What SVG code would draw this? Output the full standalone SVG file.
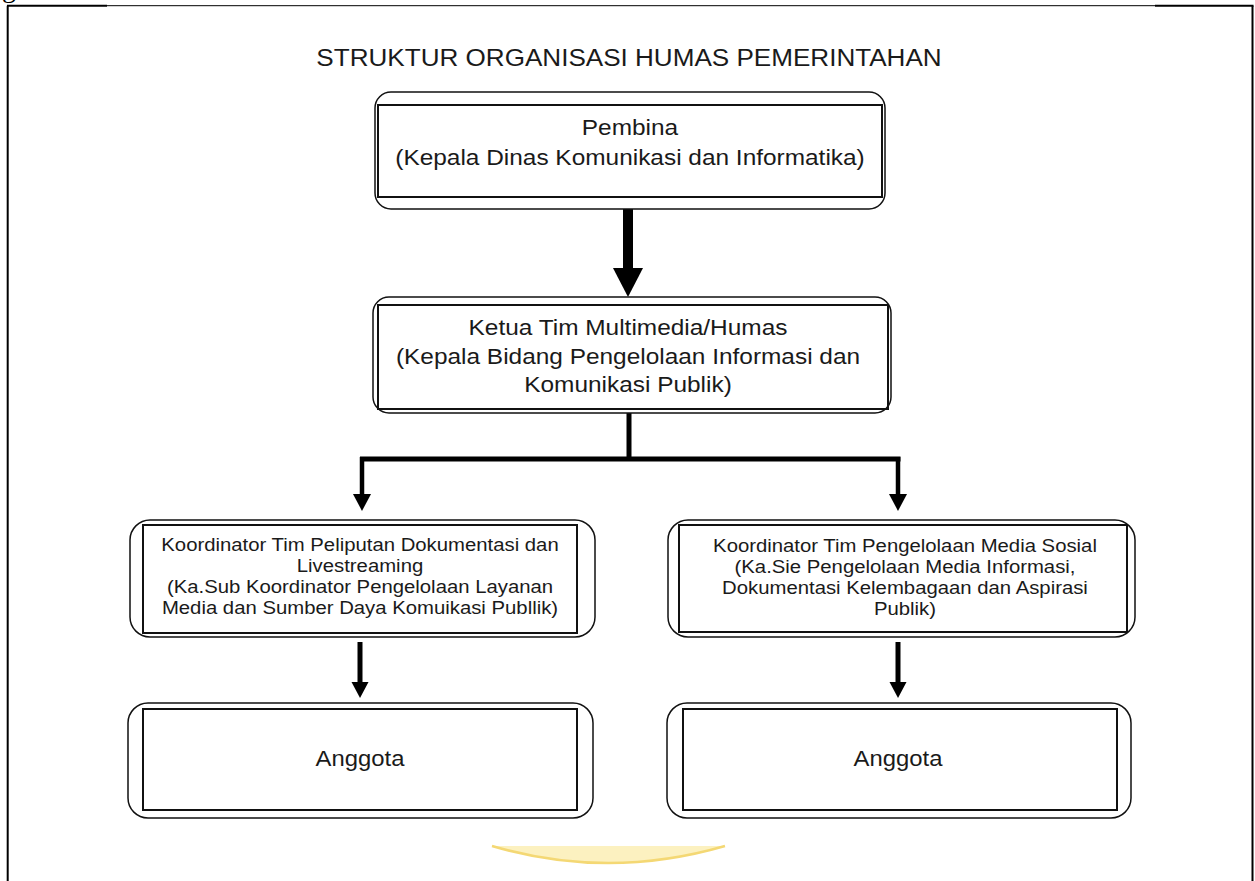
<svg xmlns="http://www.w3.org/2000/svg" width="1255" height="881" viewBox="0 0 1255 881">
<style>
  .t { font-family: "Liberation Sans", Arial, sans-serif; fill: #1a1a1a; text-anchor: middle; }
  .title { font-size: 23.5px; }
  .main { font-size: 22px; }
  .coord { font-size: 18.3px; }
  .ang { font-size: 21.5px; }
  .outer { fill: #fff; stroke: #111; stroke-width: 1.5; }
  .inner { fill: none; stroke: #111; stroke-width: 2; }
  .line { stroke: #000; fill: none; }
  .head { fill: #000; }
</style>
<rect x="0" y="0" width="1255" height="881" fill="#fff"/>
<g id="frame">
  <text x="2" y="-3" style="font-family: 'Liberation Serif', serif; font-size: 28px; fill: #000;">g</text>
  <line x1="7.7" y1="5.7" x2="7.7" y2="881" stroke="#000" stroke-width="2"/>
  <line x1="1252.5" y1="5.7" x2="1252.5" y2="881" stroke="#000" stroke-width="2"/>
  <line x1="7" y1="5.7" x2="107" y2="5.7" stroke="#000" stroke-width="2"/>
  <line x1="107" y1="5.7" x2="1155" y2="5.7" stroke="#000" stroke-width="1"/>
  <line x1="1155" y1="5.7" x2="1253.5" y2="5.7" stroke="#000" stroke-width="2"/>
</g>
<g id="title">
  <g transform="translate(629 0) scale(1.11 1)"><text class="t title" x="0" y="66">STRUKTUR ORGANISASI HUMAS PEMERINTAHAN</text></g>
</g>
<g id="connectors">
  <line class="line" x1="628" y1="209" x2="628" y2="270" stroke-width="10"/>
  <polygon class="head" points="613,268 643,268 628,297"/>
  <line class="line" x1="629" y1="413" x2="629" y2="459" stroke-width="5"/>
  <line class="line" x1="360" y1="459" x2="900.5" y2="459" stroke-width="5"/>
  <line class="line" x1="362" y1="457" x2="362" y2="496" stroke-width="4.5"/>
  <polygon class="head" points="353,494 371,494 362,511"/>
  <line class="line" x1="898" y1="457" x2="898" y2="496" stroke-width="4.5"/>
  <polygon class="head" points="889,494 907,494 898,511"/>
  <line class="line" x1="360" y1="642" x2="360" y2="684" stroke-width="5"/>
  <polygon class="head" points="351.5,682 368.5,682 360,698"/>
  <line class="line" x1="898" y1="642" x2="898" y2="684" stroke-width="5"/>
  <polygon class="head" points="889.5,682 906.5,682 898,698"/>
</g>
<g id="pembina">
  <rect class="outer" x="375" y="92" width="510" height="117" rx="16"/>
  <rect class="inner" x="378" y="105" width="504" height="92"/>
  <g transform="translate(630 0) scale(1.11 1)">
    <text class="t main" x="0" y="135">Pembina</text>
    <text class="t main" x="0" y="165">(Kepala Dinas Komunikasi dan Informatika)</text>
  </g>
</g>
<g id="ketua">
  <rect class="outer" x="373" y="297" width="518" height="116" rx="16"/>
  <rect class="inner" x="378" y="305" width="510" height="104"/>
  <g transform="translate(628 0) scale(1.11 1)">
    <text class="t main" x="0" y="335">Ketua Tim Multimedia/Humas</text>
    <text class="t main" x="0" y="364">(Kepala Bidang Pengelolaan Informasi dan</text>
    <text class="t main" x="0" y="392">Komunikasi Publik)</text>
  </g>
</g>
<g id="koord-peliputan">
  <rect class="outer" x="130" y="520" width="465" height="117" rx="20"/>
  <rect class="inner" x="143" y="525" width="434" height="108"/>
  <g transform="translate(360 0) scale(1.11 1)">
    <text class="t coord" x="0" y="551">Koordinator Tim Peliputan Dokumentasi dan</text>
    <text class="t coord" x="0" y="572">Livestreaming</text>
    <text class="t coord" x="0" y="593">(Ka.Sub Koordinator Pengelolaan Layanan</text>
    <text class="t coord" x="0" y="614">Media dan Sumber Daya Komuikasi Publlik)</text>
  </g>
</g>
<g id="koord-medsos">
  <rect class="outer" x="668" y="520" width="467" height="117" rx="20"/>
  <rect class="inner" x="679" y="525" width="448" height="107"/>
  <g transform="translate(905 0) scale(1.11 1)">
    <text class="t coord" x="0" y="552">Koordinator Tim Pengelolaan Media Sosial</text>
    <text class="t coord" x="0" y="573">(Ka.Sie Pengelolaan Media Informasi,</text>
    <text class="t coord" x="0" y="594">Dokumentasi Kelembagaan dan Aspirasi</text>
    <text class="t coord" x="0" y="615">Publik)</text>
  </g>
</g>
<g id="anggota-1">
  <rect class="outer" x="128" y="703" width="465" height="115" rx="20"/>
  <rect class="inner" x="143" y="709" width="434" height="101"/>
  <g transform="translate(360 0) scale(1.11 1)"><text class="t ang" x="0" y="766">Anggota</text></g>
</g>
<g id="anggota-2">
  <rect class="outer" x="667" y="703" width="464" height="115" rx="20"/>
  <rect class="inner" x="683" y="709" width="434" height="101"/>
  <g transform="translate(898 0) scale(1.11 1)"><text class="t ang" x="0" y="766">Anggota</text></g>
</g>
<g id="watermark">
  <path d="M492,846 L725,846 Q608,880 492,846 Z" fill="#fcf1c0"/>
  <path d="M492,846 Q608,880 725,846" fill="none" stroke="#f4d874" stroke-width="2.5"/>
</g>
</svg>
